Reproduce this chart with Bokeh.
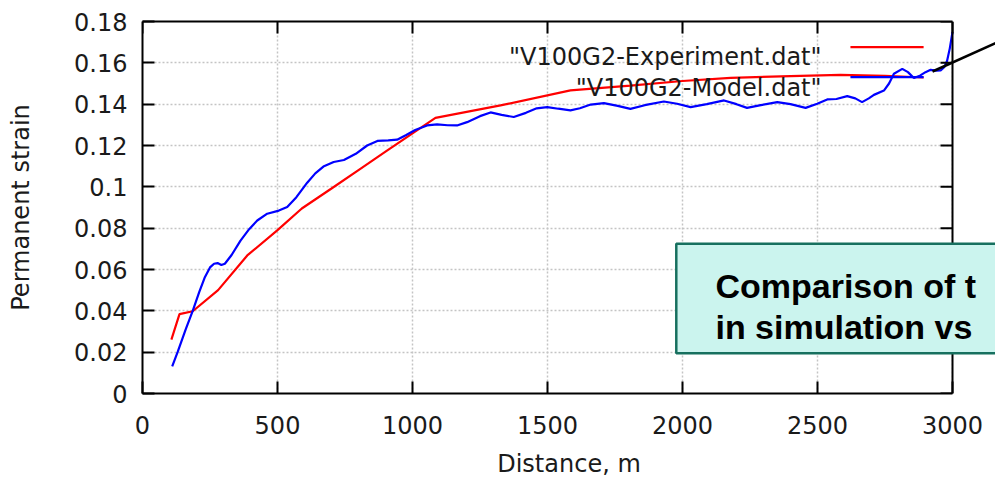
import math
from bokeh.plotting import figure
from bokeh.models import FixedTicker, LinearAxis, Label, Arrow, BoxAnnotation, Range1d, Span
from bokeh.embed import file_html
from bokeh.resources import INLINE

# ---------------- data ----------------
exp_x = [107, 137, 186, 280, 388, 499, 590, 700, 800, 900, 1000, 1085, 1326, 1585,
         1807, 2000, 2178, 2400, 2585, 2750, 2893]
exp_y = [0.0261, 0.0384, 0.0398, 0.0500, 0.0668, 0.0789, 0.0895, 0.0992, 0.1081, 0.1170,
         0.1259, 0.1334, 0.1394, 0.1467, 0.1490, 0.1512, 0.1527, 0.1536, 0.1542, 0.1537, 0.1529]

mod_x = [110, 130, 160, 186, 210, 230, 250, 265, 278, 292, 305, 330, 363, 395, 425, 462,
         505, 536, 570, 610, 640, 670, 708, 746, 790, 832, 870, 910, 943, 975, 1010, 1054,
         1091, 1130, 1165, 1202, 1250, 1289, 1330, 1375, 1420, 1460, 1499, 1540, 1585, 1620,
         1660, 1709, 1760, 1807, 1860, 1931, 1980, 2030, 2090, 2154, 2200, 2239, 2290, 2351,
         2400, 2456, 2499, 2536, 2570, 2610, 2640, 2665, 2690, 2709, 2746, 2765, 2783, 2814,
         2835, 2857, 2881, 2900, 2919, 2940, 2956, 2970, 2980, 2990, 3000]
mod_y = [0.0131, 0.0200, 0.0310, 0.0400, 0.0490, 0.0560, 0.0610, 0.0628, 0.0631, 0.0622,
         0.0628, 0.0670, 0.0740, 0.0795, 0.0837, 0.0870, 0.0885, 0.0902, 0.0950, 0.1020,
         0.1065, 0.1098, 0.1120, 0.1130, 0.1160, 0.1200, 0.1222, 0.1225, 0.1228, 0.1250,
         0.1275, 0.1297, 0.1302, 0.1298, 0.1297, 0.1313, 0.1342, 0.1360, 0.1348, 0.1338,
         0.1358, 0.1380, 0.1386, 0.1378, 0.1370, 0.1380, 0.1398, 0.1405, 0.1392, 0.1377,
         0.1395, 0.1413, 0.1402, 0.1386, 0.1400, 0.1418, 0.1400, 0.1382, 0.1395, 0.1410,
         0.1400, 0.1382, 0.1402, 0.1423, 0.1425, 0.1439, 0.1428, 0.1410, 0.1428, 0.1445,
         0.1466, 0.1500, 0.1547, 0.1571, 0.1555, 0.1527, 0.1539, 0.1555, 0.1566, 0.1562,
         0.1563, 0.1580, 0.1610, 0.1670, 0.1749]

x_ticks = [0, 500, 1000, 1500, 2000, 2500, 3000]
y_ticks = [0, 0.02, 0.04, 0.06, 0.08, 0.1, 0.12, 0.14, 0.16, 0.18]
y_tick_labels = ["0", "0.02", "0.04", "0.06", "0.08", "0.1", "0.12", "0.14", "0.16", "0.18"]

series_names = ['"V100G2-Experiment.dat"', '"V100G2-Model.dat"']
box_lines = ["Comparison of t", "in simulation vs"]
x_title = "Distance, m"
y_title = "Permanent strain"

# ---------------- layout constants ----------------
W, H = 995, 481
FRAME_L, FRAME_R, FRAME_T, FRAME_B = 142, 952, 21, 393
X0, X1 = 0, 3000
Y0, Y1 = 0, 0.18
# frame extends to the right canvas edge so overlays can run past the axes box
X_VIEW = X0 + (X1 - X0) * (W - FRAME_L) / (FRAME_R - FRAME_L)

FONT = "DejaVu Sans"
FS = "24px"
RED = "#ff0000"
BLUE = "#0000ff"
TXT = "#1a1a1a"

p = figure(width=W, height=H, output_backend="svg", toolbar_location=None,
           x_range=Range1d(X0, X_VIEW), y_range=Range1d(Y0, Y1),
           min_border_left=FRAME_L, min_border_right=0,
           min_border_top=FRAME_T, min_border_bottom=H - FRAME_B)
p.background_fill_color = "white"
p.border_fill_color = "white"
p.outline_line_color = None

# grid (dotted, light grey)
for g, t in ((p.xgrid, x_ticks), (p.ygrid, y_ticks)):
    g.ticker = FixedTicker(ticks=t)
    g.grid_line_color = "#c4c4c4"
    g.grid_line_dash = "2 2"
    g.grid_line_width = 1.5

# white mask beyond the axes box (hides grid lines past x=3000)
p.add_layout(BoxAnnotation(left=X1, fill_color="white", fill_alpha=1.0,
                           line_color=None, level="underlay"))

p.line(exp_x, exp_y, line_color=RED, line_width=2.2)
p.line(mod_x, mod_y, line_color=BLUE, line_width=2.2)

# axes
p.xaxis.ticker = FixedTicker(ticks=x_ticks)
p.yaxis.ticker = FixedTicker(ticks=y_ticks)
p.xaxis.bounds = (X0, X1)
p.yaxis.major_label_overrides = {v: s for v, s in zip(y_ticks, y_tick_labels)}
p.xaxis.axis_label = x_title
p.yaxis.axis_label = y_title

for ax in (p.xaxis[0], p.yaxis[0]):
    ax.axis_line_color = "black"
    ax.axis_line_width = 2
    ax.major_tick_line_color = "black"
    ax.major_tick_line_width = 2
    ax.major_tick_in = 12
    ax.major_tick_out = 0
    ax.minor_tick_line_color = None
    ax.major_label_text_font = FONT
    ax.major_label_text_font_size = FS
    ax.major_label_text_color = TXT
    ax.axis_label_text_font = FONT
    ax.axis_label_text_font_size = FS
    ax.axis_label_text_font_style = "normal"
    ax.axis_label_text_color = TXT

p.xaxis.major_label_standoff = 22
p.xaxis.axis_label_standoff = 13
p.yaxis.major_label_standoff = 15
p.yaxis.axis_label_standoff = 36

# top border line (axis without ticks/labels, bounded to the data box)
top = LinearAxis(ticker=FixedTicker(ticks=[]), bounds=(X0, X1))
top.axis_line_color = "black"
top.axis_line_width = 2
top.major_tick_out = 0
top.major_tick_in = 0
top.minor_tick_line_color = None
top.major_label_standoff = 0
p.add_layout(top, "above")

# right border line
p.add_layout(Span(location=X1, dimension="height", line_color="black", line_width=2))

# mirrored inward ticks on top and right
p.ray(x=x_ticks, y=[Y1] * len(x_ticks), length=12, length_units="screen",
      angle=-math.pi / 2, line_color="black", line_width=2)
p.ray(x=[X1] * len(y_ticks), y=y_ticks, length=12, length_units="screen",
      angle=math.pi, line_color="black", line_width=2)

# ---------------- legend (gnuplot style: text then sample) ----------------
leg_text_x = 2515
leg_rows = [(0.16273, 0.16756, RED), (0.14792, 0.15305, BLUE)]
for name, (ty, ly, col) in zip(series_names, leg_rows):
    p.add_layout(Label(x=leg_text_x, y=ty, text=name, text_align="right",
                       text_baseline="alphabetic", text_font=FONT, text_font_size=FS,
                       text_color=TXT, level="overlay"))
    p.add_layout(Arrow(end=None, x_start=2622, y_start=ly, x_end=2893, y_end=ly,
                       line_color=col, line_width=2.2, level="overlay"))

# callout line
p.add_layout(Arrow(end=None, x_start=2926, y_start=0.1558, x_end=3170, y_end=0.1701,
                   line_color="black", line_width=2.5, level="overlay"))

# teal comparison box
p.add_layout(BoxAnnotation(left=1977, right=3400, bottom=0.0195, top=0.0724,
                           fill_color="#cbf4ee", fill_alpha=1.0,
                           line_color="#17705f", line_alpha=1.0, line_width=2.5,
                           level="overlay"))
for txt, yb in zip(box_lines, [0.0522, 0.0324]):
    p.add_layout(Label(x=2122, y=yb, text=txt, text_align="left", text_baseline="alphabetic",
                       text_font="Liberation Sans", text_font_size="34px",
                       text_font_style="bold", text_color="black", level="overlay"))

open("out.html", "w").write(file_html(p, INLINE))
